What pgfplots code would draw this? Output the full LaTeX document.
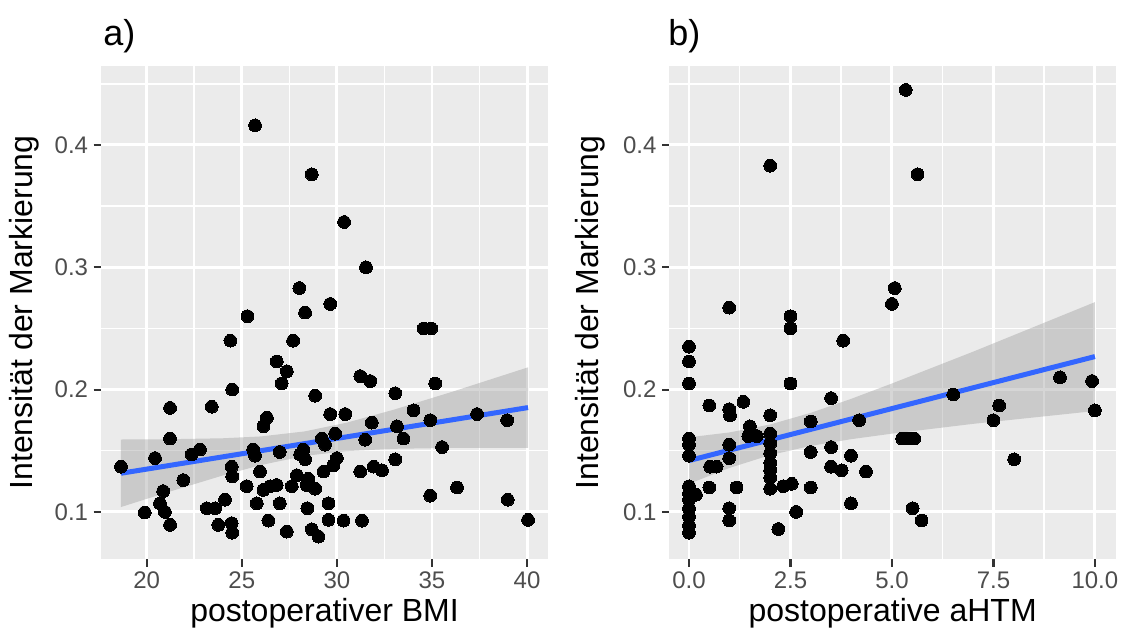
\documentclass[border=0pt]{standalone}
\usepackage{pgfplots}
\pgfplotsset{compat=1.18}
\usepackage{fontspec}
\setmainfont{Liberation Sans}
\definecolor{panel}{HTML}{EBEBEB}
\definecolor{tickc}{HTML}{333333}
\definecolor{labc}{HTML}{4D4D4D}
\definecolor{ggblue}{HTML}{3366FF}
\definecolor{ribbon}{HTML}{999999}
\pgfplotsset{gg/.style={
  scale only axis, height=370pt,
  axis background/.style={fill=panel},
  axis line style={draw=none},
  grid=both,
  major grid style={white, line width=2.2pt},
  minor grid style={white, line width=1.1pt},
  tick align=outside,
  major tick length=5.5pt,
  minor tick length=0pt,
  tick style={color=tickc, line width=1.6pt},
  xtick pos=bottom, ytick pos=left,
  ticklabel style={font=\fontsize{18}{18}\selectfont, text=labc, inner sep=0pt},
  xticklabel style={yshift=-4pt},
  yticklabel style={xshift=-4pt},
  ymin=0.0613, ymax=0.4646,
  ytick={0.1,0.2,0.3,0.4}, yticklabels={0.1,0.2,0.3,0.4},
  minor ytick={0.15,0.25,0.35,0.45},
  pts/.style={only marks, mark=*, mark size=4.8pt, mark options={fill=black, draw=black, line width=0pt}},
  band/.style={draw=none, fill=ribbon, fill opacity=0.4},
  fitline/.style={color=ggblue, line width=3.75pt, no marks},
}}
\begin{document}
\begin{tikzpicture}
\begin{axis}[gg, at={(75.75pt,59.8pt)}, anchor=south west, width=335.25pt,
  xmin=17.6, xmax=41.1,
  xtick={20,25,30,35,40}, xticklabels={20,25,30,35,40},
  minor xtick={22.5,27.5,32.5,37.5}]
\addplot[pts] coordinates {
(25.7,0.416) (28.68,0.376) (30.38,0.337) (31.53,0.300) (28.03,0.283) (29.65,0.270)
(25.3,0.260) (28.33,0.263) (24.4,0.240) (27.7,0.240) (34.56,0.250) (34.96,0.250)
(26.84,0.223) (27.37,0.215) (27.1,0.205) (31.23,0.211) (31.75,0.207) (35.17,0.205)
(24.5,0.200) (33.07,0.197) (28.86,0.195) (21.23,0.185) (23.42,0.186) (29.65,0.180)
(30.44,0.180) (34.03,0.183) (26.32,0.177) (26.14,0.170) (37.37,0.180) (38.95,0.175)
(31.84,0.173) (34.91,0.175) (33.16,0.170) (21.23,0.160) (31.49,0.159) (33.5,0.160)
(29.91,0.164) (29.21,0.160) (29.38,0.155) (35.53,0.153) (22.8,0.151) (22.37,0.147)
(20.44,0.144) (25.6,0.151) (25.7,0.146) (27.0,0.149) (28.24,0.151) (28.07,0.147)
(28.33,0.143) (18.65,0.137) (24.47,0.137) (24.5,0.129) (33.07,0.143) (21.93,0.126)
(25.96,0.133) (27.9,0.130) (28.5,0.127) (28.42,0.122) (28.86,0.119) (29.3,0.133)
(29.82,0.138) (30.0,0.144) (31.23,0.133) (31.93,0.137) (32.37,0.134) (20.87,0.117)
(25.26,0.121) (25.79,0.107) (26.14,0.118) (26.49,0.121) (26.84,0.122) (27.63,0.121)
(20.7,0.107) (20.96,0.100) (19.9,0.0995) (21.23,0.0894) (23.16,0.103) (23.6,0.103)
(24.12,0.110) (23.77,0.0894) (24.47,0.0908) (24.5,0.083) (26.4,0.0929) (27.0,0.107)
(27.37,0.0839) (28.45,0.103) (28.68,0.0858) (29.03,0.0798) (29.56,0.107) (29.56,0.0935)
(30.35,0.0929) (31.32,0.0929) (34.91,0.1133) (36.32,0.120) (38.98,0.110) (40.05,0.0935)
};
\addplot[band] coordinates {
(18.65,0.1592) (21,0.1594) (24,0.1602) (26,0.1617) (28.3,0.1658) (30.5,0.1729) (33,0.1836) (36,0.1979) (40.05,0.2182)
(40.05,0.1524) (36,0.1523) (33,0.1516) (30.5,0.1497) (28.3,0.1458) (26,0.1383) (24,0.1298) (21,0.1156) (18.65,0.1040)
} -- cycle;
\addplot[fitline] coordinates {(18.65,0.1316) (40.05,0.1853)};
\end{axis}
\begin{axis}[gg, at={(502pt,59.8pt)}, anchor=south west, width=335pt,
  xmin=-0.485, xmax=10.52,
  xtick={0,2.5,5,7.5,10}, xticklabels={0.0,2.5,5.0,7.5,10.0},
  minor xtick={1.25,3.75,6.25,8.75}]
\addplot[pts] coordinates {
(5.34,0.445) (2.0,0.383) (5.63,0.376) (5.07,0.283) (5.0,0.270) (0.99,0.267)
(2.5,0.260) (2.5,0.250) (3.8,0.240) (0,0.235) (0,0.223) (0,0.205)
(2.5,0.205) (0.5,0.187) (0.99,0.184) (1.01,0.179) (1.34,0.190) (2.0,0.179)
(3.5,0.193) (1.5,0.170) (1.46,0.162) (1.67,0.162) (2.0,0.164) (2.0,0.156)
(2.0,0.148) (0.99,0.155) (0.99,0.144) (0,0.160) (0,0.155) (0,0.146)
(0.52,0.137) (0.68,0.137) (3.0,0.174) (4.19,0.175) (6.51,0.196) (9.14,0.210)
(9.93,0.207) (10.0,0.183) (7.64,0.187) (7.5,0.175) (5.25,0.160) (5.4,0.160)
(5.55,0.160) (8.01,0.143) (3.0,0.149) (3.5,0.153) (3.99,0.146) (3.5,0.137)
(3.76,0.134) (4.36,0.133) (2.0,0.140) (2.0,0.134) (2.0,0.128) (2.0,0.119)
(2.32,0.121) (2.53,0.123) (3.0,0.120) (0.5,0.120) (1.17,0.120) (0.17,0.114)
(0,0.121) (0,0.115) (0,0.110) (0,0.103) (0,0.096) (0,0.089) (0,0.083)
(0.99,0.103) (0.99,0.093) (2.2,0.086) (2.64,0.100) (3.99,0.107) (5.51,0.103) (5.73,0.093)
};
\addplot[band] coordinates {
(0,0.161) (1,0.165) (2,0.1715) (3,0.181) (4,0.1925) (5,0.205) (6,0.218) (7,0.231) (8,0.2445) (9,0.258) (10,0.2715)
(10,0.1825) (9,0.179) (8,0.1755) (7,0.172) (6,0.168) (5,0.164) (4,0.1595) (3,0.154) (2,0.1465) (1,0.136) (0,0.123)
} -- cycle;
\addplot[fitline] coordinates {(0,0.142) (10,0.227)};
\end{axis}
\node[font=\fontsize{24}{28}\selectfont] at (243.4pt,19.5pt) {postoperativer BMI};
\node[font=\fontsize{24}{28}\selectfont] at (669.5pt,19.5pt) {postoperative aHTM};
\node[font=\fontsize{24}{28}\selectfont, rotate=90] at (18pt,244.9pt) {Intensität der Markierung};
\node[font=\fontsize{24}{28}\selectfont, rotate=90] at (442.5pt,244.9pt) {Intensität der Markierung};
\node[font=\fontsize{27}{30}\selectfont, anchor=west, inner sep=0pt] at (77.25pt,452.25pt) {a)};
\node[font=\fontsize{27}{30}\selectfont, anchor=west, inner sep=0pt] at (501pt,452.25pt) {b)};
\pgfresetboundingbox
\useasboundingbox (0,0) rectangle (840.75pt,479.25pt);
\end{tikzpicture}
\end{document}
